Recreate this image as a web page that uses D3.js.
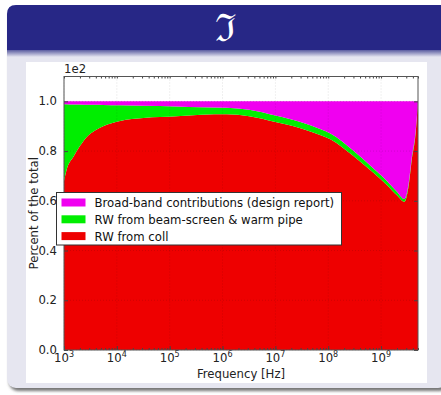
<!DOCTYPE html>
<html>
<head>
<meta charset="utf-8">
<script src="https://cdn.jsdelivr.net/npm/d3@7"></script>
<style>
  body { margin: 0; background: #fff; }
  text { font-family: "DejaVu Sans", sans-serif; }
</style>
</head>
<body>
<div id="svgElement"></div>
<script>
// frequency [Hz] and share of the total (percent) per source
var freq = [1e3, 1.12e3, 1.5e3, 2e3, 2.7e3, 4e3, 5.5e3, 1.15e4, 3.2e4, 1.35e5, 4e5, 1.2e6, 3.2e6,
            1e7, 3.2e7, 7e7, 1.1e8, 3e8, 6.3e8, 1.3e9, 2e9, 2.75e9, 3.3e9, 3.8e9, 4.5e9, 5e9];
var rwColl = [68, 72.5, 77.6, 82, 85.7, 88.5, 90, 92.1, 93.3, 94, 94.6, 94.8, 94,
              91.7, 89, 86.5, 84.8, 78, 72.3, 66.3, 62.2, 59.6, 65.6, 76.3, 87, 100];
var rwBeamScreen = [30.8, 26.3, 21.1, 16.7, 12.9, 10.1, 8.5, 6.3, 4.9, 3.9, 3.0, 2.6, 2.6,
                    2.6, 2.5, 2.4, 2.3, 2.1, 1.8, 1.6, 1.4, 1.1, 1.0, 0.9, 0.8, 0];
var broadBand = [1.2, 1.2, 1.3, 1.3, 1.4, 1.4, 1.5, 1.6, 1.8, 2.1, 2.4, 2.6, 3.4,
                 5.7, 8.5, 11.1, 12.9, 19.9, 25.9, 32.1, 36.4, 39.3, 33.4, 22.8, 12.2, 0];

var seriesNames = ["Broad-band contributions (design report)", "RW from beam-screen & warm pipe", "RW from coll"];
var seriesColors = ["#f000f0", "#00ee00", "#ee0000"];
var xTicks = [1e3, 1e4, 1e5, 1e6, 1e7, 1e8, 1e9];
var yTicks = [0, 20, 40, 60, 80, 100];

var W = 441, H = 395;
var svg = d3.select("#svgElement").append("svg")
    .attr("width", W)
    .attr("height", H);

// ---- beamer-like block frame
var defs = svg.append("defs");
defs.append("filter").attr("id", "blur")
    .append("feGaussianBlur").attr("stdDeviation", 1.5);
var hg = defs.append("linearGradient").attr("id", "hshade")
    .attr("x1", 0).attr("x2", 0).attr("y1", 0).attr("y2", 1);
hg.append("stop").attr("offset", "0%").attr("stop-color", "#5a5ca0");
hg.append("stop").attr("offset", "100%").attr("stop-color", "#e6e6f0");

svg.append("rect")
    .attr("x", 9).attr("y", 8).attr("width", 440).attr("height", 383)
    .attr("rx", 9).attr("fill", "#777").attr("filter", "url(#blur)");
svg.append("rect")
    .attr("x", 7).attr("y", 5).attr("width", 440).attr("height", 383)
    .attr("rx", 9).attr("fill", "#e6e6f0");
svg.append("path")
    .attr("d", "M7,50 L7,14 Q7,5 16,5 L447,5 L447,50 Z")
    .attr("fill", "#272786");
svg.append("rect")
    .attr("x", 7).attr("y", 50).attr("width", 440).attr("height", 7)
    .attr("fill", "url(#hshade)");
svg.append("text")
    .attr("x", 225).attr("y", 41)
    .attr("text-anchor", "middle")
    .attr("fill", "#fff")
    .style("font-family", "'DejaVu Serif', serif")
    .style("font-size", "38px")
    .text("\u2111");
svg.append("rect")
    .attr("x", 26).attr("y", 62).attr("width", 401).attr("height", 321)
    .attr("fill", "#fff");

// ---- chart
var margin = {left: 64, top: 76.5};
var width = 354,
    height = 273.5;

var xScale = d3.scaleLog()
    .domain([1e3, 5e9])
    .range([0, width]);
var yScale = d3.scaleLinear()
    .domain([0, 110])
    .range([height, 0]);

var g = svg.append("g")
    .attr("transform", "translate(" + margin.left + "," + margin.top + ")");

var rows = freq.map(function(f, i) {
    return {f: f, coll: rwColl[i], bs: rwBeamScreen[i], bb: broadBand[i]};
});
var stack = d3.stack().keys(["coll", "bs", "bb"]);
var layers = stack(rows);
var area = d3.area()
    .x(function(d) { return xScale(d.data.f); })
    .y0(function(d) { return yScale(d[0]); })
    .y1(function(d) { return yScale(d[1]); })
    .curve(d3.curveMonotoneX);

g.selectAll(".layer")
    .data(layers)
    .enter().append("path")
    .attr("class", "layer")
    .attr("d", area)
    .attr("fill", function(d, i) { return seriesColors[2 - i]; });

// grid
g.selectAll(".vgrid").data(xTicks).enter().append("line")
    .attr("x1", function(d) { return xScale(d); })
    .attr("x2", function(d) { return xScale(d); })
    .attr("y1", 0).attr("y2", height)
    .attr("stroke", "#000").attr("stroke-opacity", 0.12)
    .attr("stroke-dasharray", "1,2");
g.selectAll(".hgrid").data(yTicks).enter().append("line")
    .attr("x1", 0).attr("x2", width)
    .attr("y1", function(d) { return yScale(d); })
    .attr("y2", function(d) { return yScale(d); })
    .attr("stroke", "#000").attr("stroke-opacity", 0.12)
    .attr("stroke-dasharray", "1,2");

// axes (ticks inside like matplotlib classic)
var xAxis = g.append("g")
    .attr("transform", "translate(0," + height + ")")
    .call(d3.axisBottom(xScale).tickValues(xTicks).tickSize(-4).tickFormat(""));
var xMinor = g.append("g")
    .attr("transform", "translate(0," + height + ")")
    .call(d3.axisBottom(xScale).tickSize(-2).tickFormat(""));
var xTop = g.append("g")
    .call(d3.axisTop(xScale).tickSize(-2).tickFormat(""));
var yAxis = g.append("g")
    .call(d3.axisLeft(yScale).tickValues(yTicks).tickSize(-4)
        .tickFormat(function(d) { return (d / 100).toFixed(1); }));
var yRight = g.append("g")
    .attr("transform", "translate(" + width + ",0)")
    .call(d3.axisRight(yScale).tickValues(yTicks).tickSize(-4).tickFormat(""));

[xAxis, xMinor, xTop, yAxis, yRight].forEach(function(a) {
    a.select(".domain").remove();
    a.selectAll("line").attr("stroke", "#444");
});
yAxis.selectAll("text")
    .attr("x", -7)
    .attr("dy", "0.3em")
    .attr("fill", "#222")
    .style("font-size", "11.7px");

// x tick labels as 10^n
var xl = g.selectAll(".xlab").data(xTicks).enter().append("text")
    .attr("x", function(d) { return xScale(d); })
    .attr("y", height + 12)
    .attr("text-anchor", "middle")
    .attr("fill", "#222")
    .style("font-size", "11.7px");
xl.append("tspan").text("10");
xl.append("tspan")
    .attr("dy", -5)
    .style("font-size", "8px")
    .text(function(d) { return Math.round(Math.log10(d)); });

g.append("rect")
    .attr("width", width).attr("height", height)
    .attr("fill", "none").attr("stroke", "#555").attr("stroke-width", 1);

// offset label
g.append("text")
    .attr("x", 0).attr("y", -4)
    .attr("fill", "#222")
    .style("font-size", "11.7px")
    .text("1e2");

// axis labels
svg.append("text")
    .attr("transform", "translate(" + (margin.left + width / 2) + "," + 378 + ")")
    .attr("text-anchor", "middle")
    .attr("fill", "#222")
    .style("font-size", "11.7px")
    .text("Frequency [Hz]");
svg.append("text")
    .attr("transform", "translate(38," + (margin.top + height / 2) + ") rotate(-90)")
    .attr("text-anchor", "middle")
    .attr("fill", "#222")
    .style("font-size", "11.7px")
    .text("Percent of the total");

// legend
var legend = svg.append("g").attr("transform", "translate(56.5,192.5)");
legend.append("rect")
    .attr("width", 285).attr("height", 52.5)
    .attr("fill", "#fff").attr("stroke", "#333").attr("stroke-width", 1);
var li = legend.selectAll(".li").data(seriesNames).enter().append("g")
    .attr("transform", function(d, i) { return "translate(0," + (10 + i * 16.8) + ")"; });
li.append("rect")
    .attr("x", 5).attr("y", -4).attr("width", 24).attr("height", 8)
    .attr("fill", function(d, i) { return seriesColors[i]; });
li.append("text")
    .attr("x", 38).attr("y", 4.5)
    .attr("fill", "#111")
    .style("font-size", "11.7px")
    .text(function(d) { return d; });
</script>
</body>
</html>
